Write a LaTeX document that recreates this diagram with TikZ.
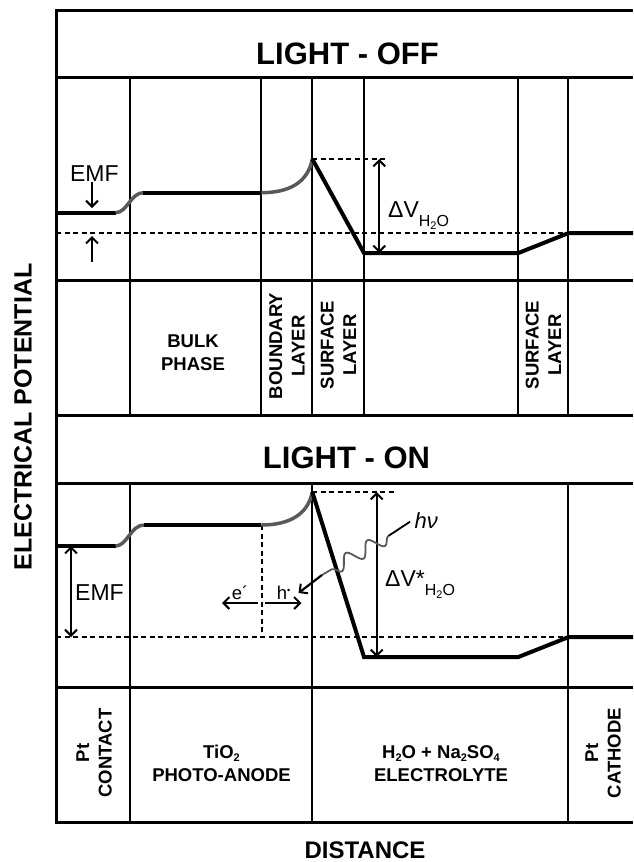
\documentclass[tikz,border=0pt]{standalone}
\usepackage{fontspec}
\setmainfont{Liberation Sans}
\usetikzlibrary{arrows.meta,decorations.pathmorphing}
\newcommand{\lowidx}[1]{\raisebox{-3pt}{\fontsize{11}{11}\selectfont #1}}
\tikzset{barb/.tip={Straight Barb[length=6pt,width=12pt,line width=2pt]}}
\begin{document}
\begin{tikzpicture}[x=1pt,y=-1pt,
  frameline/.style={line width=3pt, line join=miter},
  colline/.style={line width=2.2pt},
  pot/.style={line width=4pt, line join=miter},
  potcurve/.style={line width=3.5pt, black!65},
  guide/.style={line width=1.3pt, dash pattern=on 5pt off 3.5pt},
  dimline/.style={line width=2.2pt},
  wave/.style={line width=1.8pt, black!65, decorate, decoration={snake, amplitude=7pt, segment length=25pt}},
  title/.style={font=\fontsize{31}{31}\selectfont\bfseries, inner sep=0pt},
  lbl/.style={font=\fontsize{18.5}{22.5}\selectfont\bfseries, align=center, inner sep=0pt},
  axis/.style={font=\fontsize{24}{24}\selectfont\bfseries, inner sep=0pt},
  emf/.style={font=\fontsize{23}{23}\selectfont, inner sep=0pt},
  small/.style={font=\fontsize{18.5}{18.5}\selectfont, inner sep=0pt},
]
\useasboundingbox (0,0) rectangle (633,862);

% frame
\draw[frameline] (633,10) -- (56,10) -- (56,822) -- (633,822);
\foreach \y in {77,280,415,483,687} \draw[frameline] (56,\y) -- (633,\y);
\foreach \x in {130,261,312,364,518,568} \draw[colline] (\x,77) -- (\x,415);
\foreach \x in {130,312,568} \draw[colline] (\x,483) -- (\x,822);

% ---------- light off ----------
\draw[guide] (56,233) -- (568,233);
\draw[guide] (312,159) -- (386,159);
\draw[pot] (56,212.7) -- (115.6,212.7);
\draw[potcurve] (115.6,212.7) .. controls (127,212.7) and (131,192.7) .. (143.3,192.7);
\draw[pot] (143.3,192.7) -- (261.3,192.7);
\draw[potcurve] (261.3,192.7) .. controls (290,192.7) and (308,182) .. (312.3,159);
\draw[pot] (312.3,159) -- (364,253) -- (518.4,253) -- (568.7,233) -- (633,233);

\coordinate (a1s) at (92,182); \coordinate (a1e) at (92,208);
\coordinate (a2s) at (92,262); \coordinate (a2e) at (92,236);
\coordinate (d1t) at (379.3,159); \coordinate (d1b) at (379.3,253);
\draw[dimline,-barb] (a1s) -- (a1e);
\draw[dimline,-barb] (a2s) -- (a2e);
\draw[dimline,barb-barb] (d1t) -- (d1b);
\node[emf,anchor=base] (emf1) at (94.3,181) {EMF};
\node[emf,anchor=base west] (dv1) at (388,217) {ΔV\raisebox{-9.5pt}{\fontsize{16}{16}\selectfont H\lowidx{2}O}};

% ---------- light on ----------
\draw[guide] (56,637) -- (568,637);
\draw[guide] (262,525) -- (262,637);
\draw[guide] (312,492) -- (393.6,492);
\draw[pot] (56,546) -- (115.6,546);
\draw[potcurve] (115.6,546) .. controls (127,546) and (131,525) .. (144,525);
\draw[pot] (144,525) -- (261.3,525);
\draw[potcurve] (261.3,525) .. controls (290,525) and (308,514) .. (312.3,492);
\draw[pot] (312.3,492) -- (364,657) -- (518.4,657) -- (568.7,637) -- (633,637);

\coordinate (e1t) at (71,546); \coordinate (e1b) at (71,637);
\coordinate (d2t) at (376.7,492); \coordinate (d2b) at (376.7,657);
\coordinate (es) at (258,603); \coordinate (ee) at (222,603);
\coordinate (hs) at (265,603); \coordinate (he) at (301.5,603);
\draw[dimline,barb-barb] (e1t) -- (e1b);
\draw[dimline,barb-barb] (d2t) -- (d2b);
\draw[dimline,-barb] (es) -- (ee);
\draw[dimline,-barb] (hs) -- (he);
\node[emf,anchor=base west] (emf2) at (75,600) {EMF};
\node[small,anchor=base] (elab) at (240,599.3) {e´};
\node[small,anchor=base] (hlab) at (283.5,599.3) {h\raisebox{6pt}{\fontsize{9}{9}\selectfont •}};

\coordinate (w0) at (410,521.7);
\coordinate (w1) at (388.3,536);
\coordinate (w2) at (322,575);
\coordinate (w3) at (298.5,593);
\draw[line width=1.8pt] (w0) -- (w1);
\draw[wave] (w1) -- (w2);
\draw[dimline,-barb] (w2) -- (w3);
\node[font=\fontsize{22}{22}\selectfont\itshape, anchor=base west, inner sep=0pt] (hnu) at (414.5,528.3) {hν};
\node[emf,anchor=base west] (dv2) at (385,586.7) {ΔV*\raisebox{-8.3pt}{\fontsize{16}{16}\selectfont H\lowidx{2}O}};

% ---------- labels ----------
\node[title,anchor=base] (off) at (347.5,64) {LIGHT - OFF};
\node[title,anchor=base] (on) at (346.5,468) {LIGHT - ON};
\node[lbl] (bulk) at (193,352.5) {BULK\\PHASE};
\node[lbl,rotate=90] (bnd) at (287,346) {BOUNDARY\\LAYER};
\node[lbl,rotate=90] (surf1) at (338.5,345) {SURFACE\\LAYER};
\node[lbl,rotate=90] (surf2) at (543.5,345) {SURFACE\\LAYER};
\node[lbl,rotate=90] (ptc) at (94,753) {Pt\\CONTACT};
\node[lbl] (tio) at (221.5,763.5) {TiO\lowidx{2}\\PHOTO-ANODE};
\node[lbl] (elec) at (441,763.5) {H\lowidx{2}O + Na\lowidx{2}SO\lowidx{4}\\ELECTROLYTE};
\node[lbl,rotate=90] (ptk) at (603,753) {Pt\\CATHODE};
\node[axis,anchor=base] (dist) at (365,858) {DISTANCE};
\node[axis,font=\fontsize{25}{25}\selectfont\bfseries,rotate=90] (epot) at (23,417) {ELECTRICAL POTENTIAL};
\end{tikzpicture}
\end{document}
